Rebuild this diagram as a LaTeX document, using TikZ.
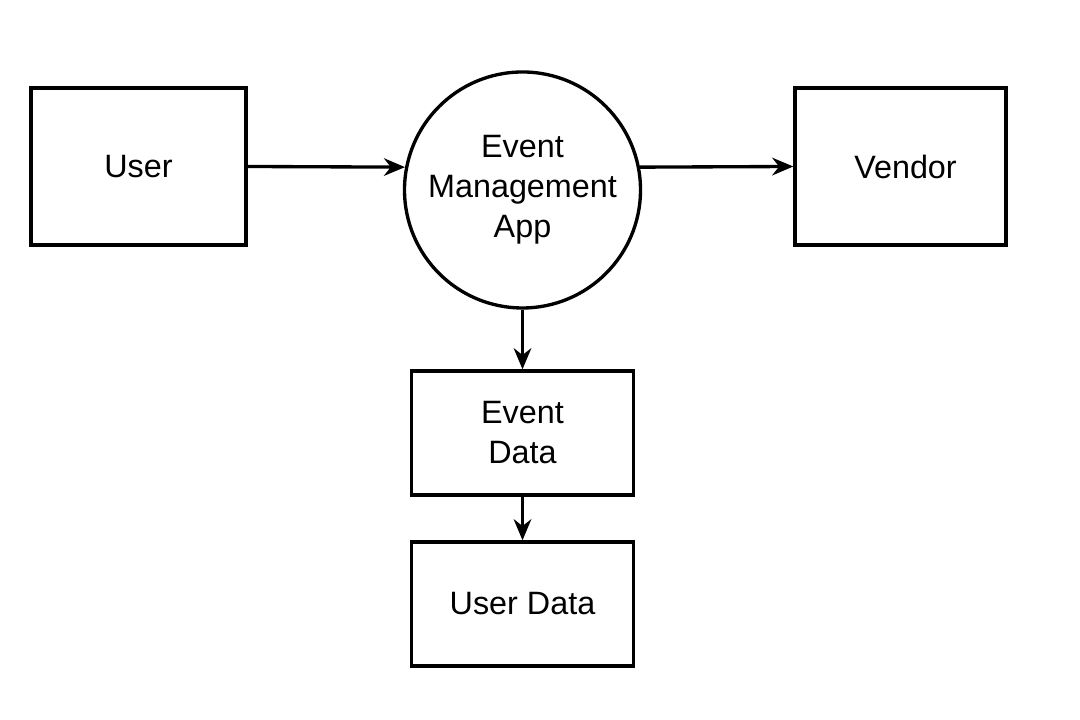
\documentclass[tikz,border=0pt]{standalone}
\usepackage{fontspec}
\setmainfont{Liberation Sans}
\usepackage{tikz}
\usetikzlibrary{arrows.meta,positioning,shapes.geometric}

\begin{document}
\begin{tikzpicture}[
  >={Stealth[length=6pt,width=5pt]},
  ent/.style={draw, line width=0.95pt, align=center,
              font=\fontsize{9.2}{11.4}\selectfont},
  proc/.style={draw, circle, line width=0.95pt, minimum size=2.36cm,
               inner sep=0pt, align=center,
               font=\fontsize{9.2}{11.4}\selectfont},
  arr/.style={->, line width=0.95pt},
]
\useasboundingbox (0,0) rectangle (10.8,7.2);

% ---- external entities ----
\node[ent, minimum width=2.15cm, minimum height=1.57cm] (User) at (1.385,5.535) {User};
\node[ent, minimum width=2.11cm, minimum height=1.57cm] (Vendor) at (9.005,5.535) {\hspace{0.1cm}Vendor};

% ---- process ----
\node[proc] (App) at (5.225,5.30) {Event\\Management\\App};

% ---- data stores ----
\node[ent, minimum width=2.22cm, minimum height=1.24cm] (EvData) at (5.225,2.87) {Event\\Data};
\node[ent, minimum width=2.22cm, minimum height=1.24cm] (UsData) at (5.225,1.16) {User Data};

% ---- arrows ----
\draw[arr] (User.east) -- (App.169);
\draw[arr] (App.11)    -- (Vendor.west);
\draw[arr] (App.south) -- (EvData.north);
\draw[arr] (EvData)    -- (UsData);

\end{tikzpicture}
\end{document}
